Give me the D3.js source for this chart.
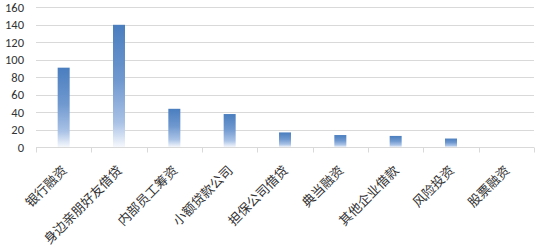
<!DOCTYPE html>
<html>
<head>
<meta charset="utf-8">
<script src="https://cdn.jsdelivr.net/npm/d3@7"></script>
<style>
  body { margin: 0; background: #fff; }
  svg { display: block; }
</style>
</head>
<body>
<svg id="chart" width="536" height="250"></svg>
<script>
// categories and values
const categories = ["银行融资", "身边亲朋好友借贷", "内部员工筹资", "小额贷款公司",
  "担保公司借贷", "典当融资", "其他企业借款", "风险投资", "股票融资"];
const values = [91, 140, 44, 38, 17, 14, 13, 10, 0];
const yTicks = [0, 20, 40, 60, 80, 100, 120, 140, 160];

const svg = d3.select("#chart");
const plotLeft = 36, plotRight = 534, plotTop = 7.3, plotBottom = 147.3;

const x = d3.scaleBand().domain(categories).range([plotLeft, plotRight]);
const y = d3.scaleLinear().domain([0, 160]).range([plotBottom, plotTop]);

// bar fill: blue at the top fading out to white at the base
const grad = svg.append("defs").append("linearGradient")
  .attr("id", "barFill")
  .attr("x1", 0).attr("y1", 0).attr("x2", 0).attr("y2", 1);
[[0, "#4a7ebf"], [0.45, "#6f98cf"], [0.8, "#a9c2e6"], [1, "#f7f9fd"]].forEach(function(s) {
  grad.append("stop").attr("offset", s[0]).attr("stop-color", s[1]);
});

// horizontal gridlines
svg.append("g")
  .selectAll("line")
  .data(yTicks.slice(1))
  .enter()
  .append("line")
  .attr("x1", plotLeft).attr("x2", plotRight)
  .attr("y1", function(d) { return Math.round(y(d)) + 0.5; })
  .attr("y2", function(d) { return Math.round(y(d)) + 0.5; })
  .attr("stroke", "#d9d9d9")
  .attr("stroke-width", 1);

// y axis labels
svg.append("g")
  .selectAll("text")
  .data(yTicks)
  .enter()
  .append("text")
  .attr("x", 24)
  .attr("y", function(d) { return y(d); })
  .attr("dy", "0.36em")
  .attr("text-anchor", "end")
  .attr("font-family", "Carlito, 'Liberation Sans', sans-serif")
  .attr("font-size", 12.5)
  .attr("fill", "#333")
  .text(function(d) { return d; });

// bars
const barW = 12;
svg.append("g")
  .selectAll("rect")
  .data(values)
  .enter()
  .append("rect")
  .attr("x", function(d, i) { return x(categories[i]) + x.bandwidth() / 2 - barW / 2; })
  .attr("y", function(d) { return y(d); })
  .attr("width", barW)
  .attr("height", function(d) { return plotBottom - y(d); })
  .attr("fill", "url(#barFill)");

// x axis line and tick marks
const xAxis = svg.append("g").attr("transform", "translate(0," + (Math.round(plotBottom) + 0.5) + ")");
xAxis.append("line")
  .attr("x1", plotLeft).attr("x2", plotRight)
  .attr("stroke", "#d9d9d9");
xAxis.selectAll("line.tick")
  .data(categories.concat([null]))
  .enter()
  .append("line")
  .attr("class", "tick")
  .attr("x1", function(d, i) { return Math.round(plotLeft + i * x.step()) + 0.5; })
  .attr("x2", function(d, i) { return Math.round(plotLeft + i * x.step()) + 0.5; })
  .attr("y1", 0).attr("y2", 5)
  .attr("stroke", "#d9d9d9");

// rotated category labels
svg.append("g")
  .selectAll("text")
  .data(categories)
  .enter()
  .append("text")
  .attr("transform", function(d) {
    return "translate(" + (x(d) + x.bandwidth() / 2 + 4) + "," + (plotBottom + 24) + ") rotate(-45)";
  })
  .attr("text-anchor", "end")
  .attr("font-family", "'Noto Sans CJK SC', sans-serif")
  .attr("font-size", 13)
  .attr("fill", "#333")
  .text(function(d) { return d; });
</script>
</body>
</html>
